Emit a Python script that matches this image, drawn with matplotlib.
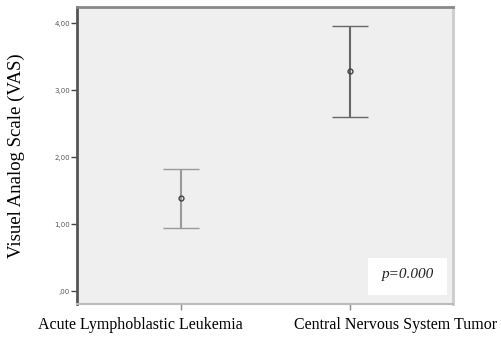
import matplotlib
matplotlib.use("Agg")
import matplotlib.pyplot as plt
import matplotlib.transforms as mtransforms
from matplotlib.patches import Rectangle
import numpy as np

groups = ["Acute Lymphoblastic Leukemia", "Central Nervous System Tumor"]
means = [1.39, 3.28]
ci_low = [0.94, 2.60]
ci_high = [1.82, 3.96]
yticks = [0, 1, 2, 3, 4]
ytick_labels = [",00", "1,00", "2,00", "3,00", "4,00"]

plt.rcParams["font.family"] = ["Liberation Serif", "DejaVu Serif"]

fig = plt.figure(figsize=(5.01, 3.37), dpi=100)
ax = fig.add_axes([77 / 501, 1 - 304 / 337, (453 - 77) / 501, (304 - 7) / 337])
ax.set_facecolor("#efefef")

x = np.arange(len(groups))
means = np.array(means)
err = [means - np.array(ci_low), np.array(ci_high) - means]
bar_colors = ["#999999", "#666666"]
for i in range(len(groups)):
    ax.errorbar(x[i], means[i], yerr=[[err[0][i]], [err[1][i]]], fmt="o",
                color=bar_colors[i], ecolor=bar_colors[i], elinewidth=1.5,
                capsize=13, capthick=1.5, markersize=3.5,
                markerfacecolor="none", markeredgecolor="#444444",
                markeredgewidth=1)

ax.set_xlim(-0.615, 1.61)
ax.set_ylim(-0.19, 4.24)
ax.set_xticks(x)
ax.set_xticklabels([])
# SPSS pushes the two category labels apart, so draw them as texts
shifts = [-41, 46]
base = mtransforms.blended_transform_factory(ax.transData, ax.transAxes)
for xi, name, dx in zip(x, groups, shifts):
    tr = base + mtransforms.ScaledTranslation(dx / 100, -21 / 100, fig.dpi_scale_trans)
    ax.text(xi, 0, name, transform=tr, fontsize=11.5, ha="center", va="center")

ax.set_yticks(yticks)
ax.set_yticklabels(ytick_labels, fontsize=5, color="#555555", family="DejaVu Sans")
ax.tick_params(axis="y", length=4, width=1, color="#444444", pad=1)
ax.tick_params(axis="x", length=4, width=1, color="#888888")
ax.set_ylabel("Visuel Analog Scale (VAS)", fontsize=13.5)
ax.yaxis.set_label_coords(-52 / 376, 0.5)

ax.spines["left"].set_color("#555555")
ax.spines["left"].set_linewidth(2)
ax.spines["top"].set_color("#888888")
ax.spines["top"].set_linewidth(2)
ax.spines["right"].set_color("#cccccc")
ax.spines["right"].set_linewidth(2)
ax.spines["bottom"].set_color("#bbbbbb")
ax.spines["bottom"].set_linewidth(1.5)

ax.add_patch(Rectangle((0.774, 0.030), 0.210, 0.125, transform=ax.transAxes,
                       facecolor="white", edgecolor="none", zorder=3))
ax.text(0.880, 0.098, "p=0.000", transform=ax.transAxes, fontsize=11,
        style="italic", ha="center", va="center", color="#222222", zorder=4)

fig.savefig("out.png", dpi=100)
